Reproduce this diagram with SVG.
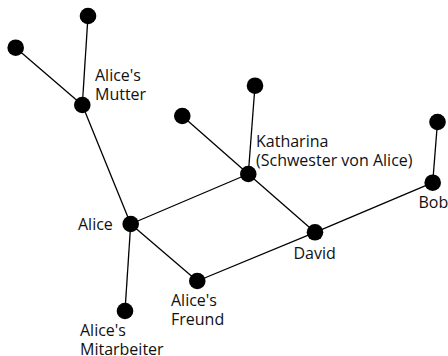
<svg xmlns="http://www.w3.org/2000/svg" width="448" height="356" viewBox="0 0 448 356">
<style>
.e{stroke:#000;stroke-width:1.3;fill:none}
.n{fill:#000}
.t{font-family:"Open Sans","Noto Sans","DejaVu Sans",sans-serif;font-size:16px;fill:#111}
</style>
<rect width="448" height="356" fill="#fff"/>
<g id="edges">
<line class="e" x1="88" y1="16" x2="82.3" y2="105"/>
<line class="e" x1="15.7" y1="47.7" x2="82.3" y2="105"/>
<line class="e" x1="82.3" y1="105" x2="130.7" y2="224"/>
<line class="e" x1="130.7" y1="224" x2="248.3" y2="174"/>
<line class="e" x1="130.7" y1="224" x2="197.3" y2="281"/>
<line class="e" x1="130.7" y1="224" x2="125" y2="311"/>
<line class="e" x1="248.3" y1="174" x2="255" y2="85.7"/>
<line class="e" x1="248.3" y1="174" x2="182.3" y2="116"/>
<line class="e" x1="248.3" y1="174" x2="315" y2="232.3"/>
<line class="e" x1="197.3" y1="281" x2="315" y2="232.3"/>
<line class="e" x1="315" y1="232.3" x2="432.7" y2="182.7"/>
<line class="e" x1="432.7" y1="182.7" x2="437.5" y2="122"/>
</g>
<g id="n_top"><circle class="n" cx="88" cy="16" r="8.3"/></g>
<g id="n_lefttop"><circle class="n" cx="15.7" cy="47.7" r="8.3"/></g>
<g id="n_mutter"><circle class="n" cx="82.3" cy="105" r="8.3"/><text class="t" x="95" y="80.5">Alice's</text><text class="t" x="95" y="99.5">Mutter</text></g>
<g id="n_alice"><circle class="n" cx="130.7" cy="224" r="8.3"/><text class="t" x="78" y="229.5">Alice</text></g>
<g id="n_katharina"><circle class="n" cx="248.3" cy="174" r="8.3"/><text class="t" x="256" y="146.5">Katharina</text><text class="t" x="256" y="165.5">(Schwester von Alice)</text></g>
<g id="n_ktop"><circle class="n" cx="255" cy="85.7" r="8.3"/></g>
<g id="n_kleft"><circle class="n" cx="182.3" cy="116" r="8.3"/></g>
<g id="n_david"><circle class="n" cx="315" cy="232.3" r="8.3"/><text class="t" x="293.5" y="258.5">David</text></g>
<g id="n_bob"><circle class="n" cx="432.7" cy="182.7" r="8.3"/><text class="t" x="418.5" y="207.5">Bob</text></g>
<g id="n_btop"><circle class="n" cx="437.5" cy="122" r="8.3"/></g>
<g id="n_freund"><circle class="n" cx="197.3" cy="281" r="8.3"/><text class="t" x="171" y="306">Alice's</text><text class="t" x="171" y="325">Freund</text></g>
<g id="n_mitarbeiter"><circle class="n" cx="125" cy="311" r="8.3"/><text class="t" x="80" y="335.5">Alice's</text><text class="t" x="80" y="354.5">Mitarbeiter</text></g>
</svg>
